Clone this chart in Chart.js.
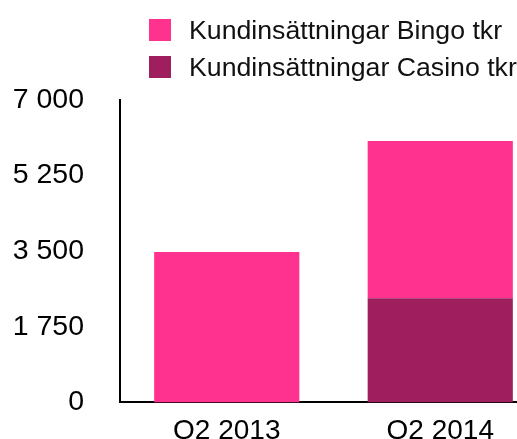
<!DOCTYPE html>
<html lang="sv">
  <head>
    <meta charset="utf-8" />
    <title>Kundinsättningar</title>
    <style>
      * {
        margin: 0;
        padding: 0;
      }
      body {
        width: 517px;
        height: 439px;
        overflow: hidden;
        position: relative;
        background: #fff;
        font-family: "Liberation Sans", Arial, sans-serif;
      }
      .chartBox {
        position: absolute;
        left: 0;
        top: 0;
        width: 550px;
        height: 460px;
      }
      .legend {
        position: absolute;
        left: 149px;
        top: 19px;
        font-size: 26.7px;
        color: #111;
        white-space: nowrap;
      }
      .legend div {
        display: flex;
        align-items: center;
        height: 22px;
        margin-bottom: 15px;
      }
      .legend span.box {
        display: inline-block;
        width: 22px;
        height: 22px;
        margin-right: 18px;
      }
    </style>
  </head>
  <body>
    <div class="chartBox">
      <canvas id="myChart" width="550" height="460"></canvas>
    </div>
    <div class="legend" id="legend"></div>

    <script src="https://cdn.jsdelivr.net/npm/chart.js@4/dist/chart.umd.min.js"></script>

    <script>
      // data block
      const categories = ["Q2 2013", "Q2 2014"];
      const bingo = [3480, 3640];
      const casino = [0, 2410];
      const yTicks = [0, 1750, 3500, 5250, 7000];

      const pink = "rgb(255, 51, 143)";
      const plum = "rgb(158, 30, 94)";

      // casino first so it stacks at the bottom
      const data = {
        labels: categories,
        datasets: [
          {
            label: "Kundinsättningar Casino tkr",
            data: casino,
            backgroundColor: plum,
          },
          {
            label: "Kundinsättningar Bingo tkr",
            data: bingo,
            backgroundColor: pink,
          },
        ],
      };

      const fmt = (v) => String(v).replace(/\B(?=(\d{3})+(?!\d))/g, " ");

      const config = {
        type: "bar",
        data: data,
        options: {
          responsive: false,
          animation: false,
          layout: { padding: { top: 100, left: 14, right: 3, bottom: 0 } },
          datasets: {
            bar: { categoryPercentage: 1, barPercentage: 0.68 },
          },
          plugins: {
            legend: { display: false },
            tooltip: { enabled: false },
          },
          scales: {
            x: {
              stacked: true,
              grid: { display: false, drawTicks: false },
              border: { display: true, color: "#000", width: 2 },
              ticks: {
                color: "#000",
                padding: 12,
                font: { family: "'Liberation Sans', Arial", size: 28 },
              },
            },
            y: {
              stacked: true,
              min: 0,
              max: 7000,
              afterBuildTicks: (axis) => {
                axis.ticks = yTicks.map((v) => ({ value: v }));
              },
              afterFit: (axis) => {
                axis.width = 106;
              },
              grid: { display: false, drawTicks: false },
              border: { display: true, color: "#000", width: 2 },
              ticks: {
                color: "#000",
                padding: 36,
                font: { family: "'Liberation Sans', Arial", size: 28.5 },
                callback: (v) => fmt(v),
              },
            },
          },
        },
      };

      const myChart = new Chart(document.getElementById("myChart"), config);

      // legend, bingo listed first
      const legendEl = document.getElementById("legend");
      [1, 0].forEach((i) => {
        const ds = data.datasets[i];
        const row = document.createElement("div");
        const box = document.createElement("span");
        box.className = "box";
        box.style.background = ds.backgroundColor;
        row.appendChild(box);
        row.appendChild(document.createTextNode(ds.label));
        legendEl.appendChild(row);
      });
    </script>
  </body>
</html>
